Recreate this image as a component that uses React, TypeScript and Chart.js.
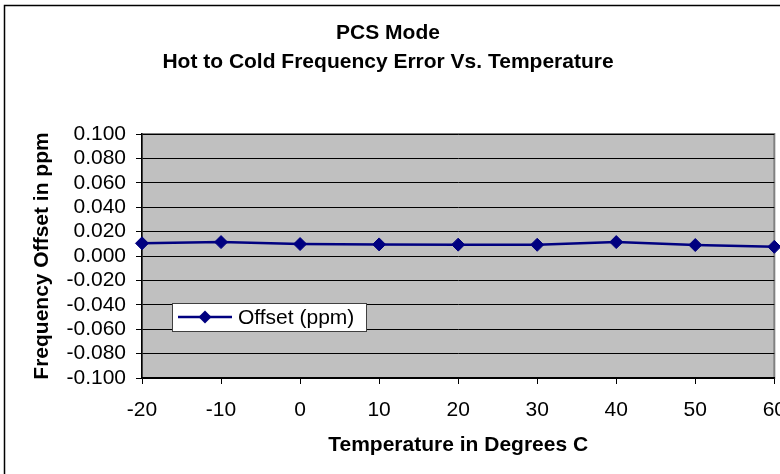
import React, { useEffect, useRef } from "react";
import { Chart, registerables } from "chart.js";

Chart.register(...registerables);

// Temperature steps (°C) and measured frequency offset (ppm)
const temperatures = [-20, -10, 0, 10, 20, 30, 40, 50, 60];
const offsets = [0.0104, 0.0114, 0.0098, 0.0095, 0.0093, 0.0092, 0.0114, 0.009, 0.0075];

const titleLines = ["PCS Mode", "Hot to Cold Frequency Error Vs. Temperature"];
const seriesLabel = "Offset (ppm)";
const xTitle = "Temperature in Degrees C";
const yTitle = "Frequency Offset in ppm";

const FONT = "'Liberation Sans', Arial, Helvetica, sans-serif";
const SIZE = 21;
const NAVY = "#000080";

// Grey plot area, outer frame and the in-plot legend box
const excelLook = {
  id: "excelLook",
  beforeDraw(chart: any) {
    const { ctx, chartArea: a } = chart;
    ctx.save();
    ctx.fillStyle = "#ffffff";
    ctx.fillRect(0, 0, chart.width, chart.height);
    ctx.fillStyle = "#c0c0c0";
    ctx.fillRect(a.left, a.top, a.right - a.left, a.bottom - a.top);
    ctx.strokeStyle = "#808080";
    ctx.lineWidth = 2;
    ctx.strokeRect(a.left, a.top, a.right - a.left, a.bottom - a.top);
    ctx.strokeStyle = "#000000";
    ctx.lineWidth = 1.5;
    ctx.strokeRect(4.5, 5.5, chart.width + 50, chart.height + 50);
    ctx.restore();
  },
  afterDraw(chart: any) {
    const { ctx, chartArea: a } = chart;
    const bx = a.left + 30;
    const by = a.top + 169;
    const bw = 194;
    const bh = 28;
    ctx.save();
    ctx.fillStyle = "#ffffff";
    ctx.fillRect(bx, by, bw, bh);
    ctx.strokeStyle = "#404040";
    ctx.lineWidth = 1;
    ctx.strokeRect(bx + 0.5, by + 0.5, bw, bh);
    const cy = by + bh / 2;
    ctx.strokeStyle = NAVY;
    ctx.lineWidth = 2.5;
    ctx.beginPath();
    ctx.moveTo(bx + 6, cy);
    ctx.lineTo(bx + 60, cy);
    ctx.stroke();
    ctx.fillStyle = NAVY;
    const dx = bx + 33;
    ctx.beginPath();
    ctx.moveTo(dx, cy - 6.5);
    ctx.lineTo(dx + 6.5, cy);
    ctx.lineTo(dx, cy + 6.5);
    ctx.lineTo(dx - 6.5, cy);
    ctx.closePath();
    ctx.fill();
    ctx.fillStyle = "#000000";
    ctx.font = `${SIZE}px ${FONT}`;
    ctx.textBaseline = "middle";
    ctx.textAlign = "left";
    ctx.fillText(seriesLabel, bx + 66, cy + 1);
    ctx.restore();
  },
};

export default function App() {
  const ref = useRef<HTMLCanvasElement | null>(null);

  useEffect(() => {
    document.body.style.margin = "0";
    const canvas = ref.current;
    if (!canvas) return;
    const chart = new Chart(canvas, {
      type: "line",
      data: {
        datasets: [
          {
            label: seriesLabel,
            data: temperatures.map((t, i) => ({ x: t, y: offsets[i] })),
            borderColor: NAVY,
            backgroundColor: NAVY,
            borderWidth: 2.5,
            pointStyle: "rectRot",
            pointRadius: 6.5,
            pointBorderWidth: 1,
            pointBorderColor: NAVY,
            pointBackgroundColor: NAVY,
            tension: 0,
            clip: false as any,
          },
        ],
      },
      options: {
        responsive: false,
        animation: false,
        devicePixelRatio: 1,
        layout: { padding: { left: 0, right: 24, top: 0, bottom: 0 } },
        plugins: {
          legend: { display: false },
          tooltip: { enabled: false },
          title: {
            display: true,
            text: titleLines,
            color: "#000000",
            font: { family: FONT, size: SIZE, weight: "bold", lineHeight: 29 / SIZE },
            padding: { top: 18.5, bottom: 57.5 },
          },
        },
        scales: {
          x: {
            type: "linear",
            min: -20,
            max: 60,
            ticks: {
              stepSize: 10,
              autoSkip: false,
              color: "#000000",
              font: { family: FONT, size: SIZE },
              padding: 14,
              maxRotation: 0,
            },
            grid: {
              display: true,
              drawOnChartArea: false,
              drawTicks: true,
              tickLength: 6,
              color: "#000000",
            },
            border: { display: true, color: "#000000", width: 1.5 },
            title: {
              display: true,
              text: xTitle,
              color: "#000000",
              font: { family: FONT, size: SIZE, weight: "bold" },
              padding: { top: 0, bottom: 16.5 },
            },
            afterFit(scale: any) {
              scale.height = 96;
            },
          },
          y: {
            min: -0.1,
            max: 0.1,
            ticks: {
              stepSize: 0.02,
              autoSkip: false,
              color: "#000000",
              font: { family: FONT, size: SIZE, lineHeight: 1 },
              padding: 10,
              callback: (v: any) => (Math.abs(Number(v)) < 1e-9 ? "0.000" : Number(v).toFixed(3)),
            },
            grid: {
              color: "#000000",
              lineWidth: 1,
              tickLength: 6,
              drawTicks: true,
            },
            border: { display: true, color: "#000000", width: 1.5 },
            title: {
              display: true,
              text: yTitle,
              color: "#000000",
              font: { family: FONT, size: SIZE, weight: "bold" },
              padding: { top: 29.4, bottom: 0 },
            },
            afterFit(scale: any) {
              scale.width = 142;
            },
          },
        },
      },
      plugins: [excelLook],
    });
    return () => chart.destroy();
  }, []);

  return (
    <div style={{ width: 780, height: 474, overflow: "hidden", position: "relative", background: "#fff" }}>
      <canvas ref={ref} width={800} height={474} style={{ display: "block" }} />
    </div>
  );
}
